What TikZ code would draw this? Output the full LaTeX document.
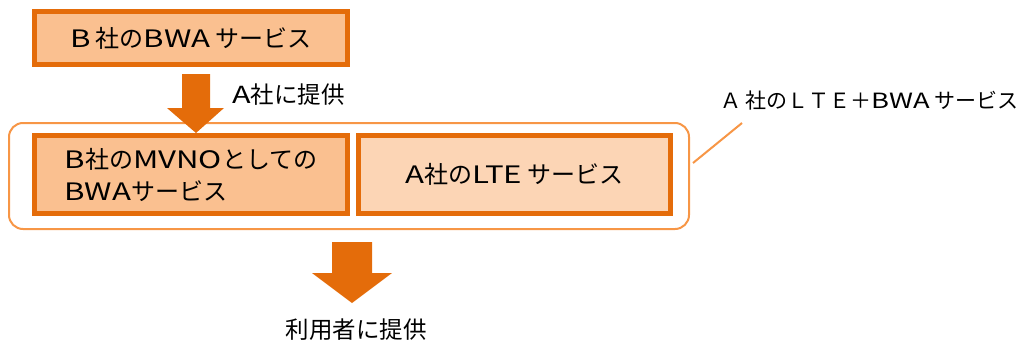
\documentclass[tikz,border=0pt]{standalone}
\usepackage{fontspec}
\setmainfont{Noto Sans CJK JP}
\newcommand{\lsp}[1]{{\addfontfeatures{FakeStretch=1.3}#1}}
\definecolor{dko}{HTML}{E46C0A}
\definecolor{lo1}{HTML}{FAC090}
\definecolor{lo2}{HTML}{FCD5B5}
\definecolor{mo}{HTML}{F79646}
\tikzset{
  svc/.style={draw=dko, line width=5pt, inner sep=0pt, font=\fontsize{24}{32}\selectfont, text=black},
  lbl/.style={inner sep=0pt, font=\fontsize{23.5}{28}\selectfont, text=black},
  blockarrow/.style={fill=dko, draw=none}
}
\begin{document}
\begin{tikzpicture}[x=1pt,y=-1pt]
\useasboundingbox (0,0) rectangle (1022,343);
% group frame
\node[draw=mo, line width=2pt, rounded corners=14pt, minimum width=680pt, minimum height=106pt, inner sep=0pt] (grp) at (349,176) {};
\node[svc, fill=lo1, minimum width=313pt, minimum height=53pt] (bwa) at (191,38) {\lsp{B} 社の\lsp{BWA} サービス};
\node[svc, fill=lo1, minimum width=313pt, minimum height=78pt, align=left] (mvno) at (191,174.5) {\lsp{B}社の\lsp{MVNO}としての\\\lsp{BWA}サービス};
\node[svc, fill=lo2, minimum width=312pt, minimum height=78pt] (lte) at (514.5,174.5) {\lsp{A}社の\lsp{LTE} サービス};
% arrows
\fill[blockarrow] (182,74) -- (210,74) -- (210,108) -- (224,108) -- (196,133) -- (167,108) -- (182,108) -- cycle;
\fill[blockarrow] (332,242) -- (372,242) -- (372,273) -- (392,273) -- (352,303) -- (312,273) -- (332,273) -- cycle;
% labels
\node[lbl, anchor=west] (give1) at (232,95) {\lsp{A}社に提供};
\node[lbl] (give2) at (356,330) {利用者に提供};
\node[lbl, anchor=east, font=\fontsize{21}{24}\selectfont] (combo) at (1019,101) {Ａ 社のＬＴＥ＋\lsp{BWA} サービス};
\coordinate (ct) at (742,123);
\draw[mo, line width=2pt] (grp.east) ++(3,-13) coordinate (cs) -- (ct);
\end{tikzpicture}
\end{document}
